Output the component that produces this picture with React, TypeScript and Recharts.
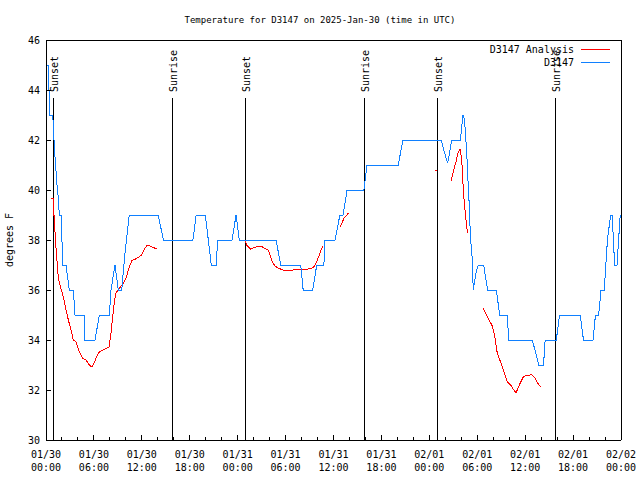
import { LineChart, Line, XAxis, YAxis, ReferenceLine } from 'recharts';

const FONT = '"DejaVu Sans Mono", monospace';
const RED = '#ff0000';
const BLUE = '#1080ff';

// hours since 2025-01-30 00:00 UTC, temperature in F
const obsHours = [
  0, 0.3, 0.45, 0.85, 1.05, 1.2, 1.35, 1.5, 1.67, 1.88, 2.0, 2.09, 2.5, 2.92, 3.42, 3.63, 4.76, 4.88, 6.14, 6.68,
  7.93, 8.14, 8.64, 9.05, 9.48, 9.9, 10.43, 14.05, 14.7, 18.4, 18.8, 19.95, 20.7, 21.3, 21.5, 23.3, 23.8, 24.2,
  28.8, 29.4, 31.9, 32.2, 33.4, 33.9, 34.8, 34.9, 36.2, 36.8, 37.2, 37.7, 39.8, 40.2, 44.1, 44.7, 49.5, 49.8,
  50.3, 50.8, 51.9, 52.2, 52.3, 52.47, 52.6, 52.76, 52.88, 53.0, 53.09, 53.2, 53.34, 53.5, 53.7, 53.9, 54.17,
  54.8, 55.3, 56.4, 56.8, 57.8, 57.9, 60.9, 61.7, 62.3, 62.5, 63.9, 64.3, 66.9, 67.3, 68.5, 68.8, 69.2, 69.5,
  69.9, 70.1, 70.3, 70.7, 70.9, 71.2, 71.5, 71.9, 72,
];
const obsTemps = [
  45, 45, 43, 43, 41.7, 41, 40.3, 39.8, 39, 39, 38, 37, 37, 36, 36, 35, 35, 34, 34, 35,
  35, 36, 37, 36, 36, 37.5, 39, 39, 38, 38, 39, 39, 37, 37, 38, 38, 39, 38,
  38, 37, 37, 36, 36, 37, 37, 38, 38, 39, 39, 40, 40, 41, 41, 42, 42, 41.6,
  41.07, 42, 42, 43, 43, 42.5, 41.9, 41, 40.1, 39.4, 38.6, 37.9, 37.4, 36, 36.4, 36.8, 37,
  37, 36, 36, 35, 35, 34, 34, 33, 33, 34, 34, 35, 35, 34, 34, 35, 35, 36,
  36, 37, 38, 39, 39, 37, 37, 39, 39,
];

// analysis, null = gap
const anaHours = [
  0.63, 0.9, 0.92, 1.04, 1.25, 1.54, 1.75, 2.17, 2.5, 2.8, 3.13, 3.42, 3.76, 4.17, 4.59, 5.0, 5.42, 5.72, 5.92,
  6.26, 6.68, 7.18, 7.6, 7.93, 8.01, 8.14, 8.35, 8.51, 8.72, 9.06, 9.27, 9.68, 10.02, 10.31, 10.73, 11.14, 11.56,
  11.98, 12.27, 12.6, 12.94, 13.44, 13.94,
  19,
  24.92, 25.13, 25.63, 26.1, 26.59, 27.0, 27.42, 27.84, 28.14, 28.38, 28.67, 29.09, 29.72, 30.97, 31.5, 32.85,
  33.48, 33.68, 33.98, 34.3, 34.65,
  35.5,
  36.81, 37.32, 37.86,
  43,
  48.7, 48.95,
  49.8,
  50.71, 51.0, 51.34, 51.63, 51.84, 52.05, 52.17, 52.26, 52.38, 52.55, 52.68, 52.8,
  53.8,
  54.76, 55.18, 55.6, 55.93, 56.22, 56.51, 57.06, 57.48, 57.77, 58.19, 58.5, 58.86, 59.27, 59.77, 60.27, 60.6,
  60.81, 61.23, 61.52, 61.94,
];
const anaTemps = [
  39.67, 39.67, 39.4, 38.8, 37.7, 36.5, 36.2, 35.73, 35.2, 34.8, 34.4, 34.0, 33.93, 33.53, 33.27, 33.2, 33.0, 32.93, 33.0,
  33.27, 33.53, 33.6, 33.67, 33.73, 34.0, 34.27, 34.93, 35.4, 35.87, 36.0, 36.1, 36.27, 36.47, 36.8, 37.17, 37.23, 37.3,
  37.4, 37.6, 37.77, 37.77, 37.7, 37.63,
  null,
  38.0, 37.8, 37.63, 37.7, 37.76, 37.74, 37.65, 37.6, 37.33, 37.09, 36.96, 36.87, 36.8, 36.8, 36.84, 36.84,
  36.89, 37.0, 37.2, 37.47, 37.76,
  null,
  38.51, 38.87, 39.07,
  null,
  40.8, 40.8,
  null,
  40.36, 40.73, 41.13, 41.53, 41.63, 41.27, 40.53, 40.0, 39.47, 38.93, 38.53, 38.29,
  null,
  35.27, 35.0, 34.73, 34.53, 34.07, 33.47, 33.0, 32.6, 32.33, 32.2, 32.03, 31.89, 32.2, 32.53, 32.59, 32.6,
  32.63, 32.47, 32.29, 32.13,
];

const sunHours = [1.0, 15.78, 25.04, 39.82, 48.96, 63.74];
const sunNames = ['Sunset', 'Sunrise', 'Sunset', 'Sunrise', 'Sunset', 'Sunrise'];

const xTicks = Array.from({ length: 37 }, (_, i) => i * 2);
const xDates = ['01/30', '01/30', '01/30', '01/30', '01/31', '01/31', '01/31', '01/31', '02/01', '02/01', '02/01', '02/01', '02/02'];
const xTimes = ['00:00', '06:00', '12:00', '18:00', '00:00', '06:00', '12:00', '18:00', '00:00', '06:00', '12:00', '18:00', '00:00'];
const yTicks = [30, 32, 34, 36, 38, 40, 42, 44, 46];

const obsData = obsHours.map((h, i) => ({ h, t: obsTemps[i] }));
const anaData = anaHours.map((h, i) => ({ h, t: anaTemps[i] }));

const txt = { fontFamily: FONT, fontSize: 10, fill: '#000' };

function BottomTick({ x, y, payload }: any) {
  const h = payload.value;
  const major = h % 6 === 0;
  const i = h / 6;
  return (
    <g>
      <line x1={x} x2={x} y1={y} y2={y - (major ? 5 : 3)} stroke="#000" />
      {major && (
        <text x={x} y={y + 18} textAnchor="middle" {...txt}>
          <tspan x={x}>{xDates[i]}</tspan>
          <tspan x={x} dy={13}>{xTimes[i]}</tspan>
        </text>
      )}
    </g>
  );
}

function TopTick({ x, y, payload }: any) {
  const major = payload.value % 6 === 0;
  return <line x1={x} x2={x} y1={y} y2={y + (major ? 5 : 3)} stroke="#000" />;
}

function LeftTick({ x, y, payload }: any) {
  return (
    <g>
      <line x1={x} x2={x + 5} y1={y} y2={y} stroke="#000" />
      <text x={x - 6} y={y + 3.5} textAnchor="end" {...txt}>{payload.value}</text>
    </g>
  );
}

function RightTick({ x, y }: any) {
  return <line x1={x} x2={x - 5} y1={y} y2={y} stroke="#000" />;
}

function SunLabel(props: any) {
  const x = props.viewBox.x + 4.5;
  return (
    <text x={x} y={92} transform={`rotate(-90 ${x} 92)`} {...txt}>{props.value}</text>
  );
}

export default function App() {
  return (
    <div style={{ position: 'absolute', left: 0, top: 0, width: 640, height: 480, background: '#fff', shapeRendering: 'crispEdges' }}>
      <LineChart width={640} height={480} margin={{ top: 0, right: 0, bottom: 0, left: 0 }}>
        <XAxis xAxisId="b" dataKey="h" type="number" domain={[0, 72]} ticks={xTicks} interval={0} height={40}
          tickSize={0} tickMargin={0} tick={<BottomTick />} tickLine={false} axisLine={{ stroke: '#000' }} allowDataOverflow />
        <XAxis xAxisId="t" orientation="top" type="number" domain={[0, 72]} ticks={xTicks} interval={0} height={40}
          tickSize={0} tickMargin={0} tick={<TopTick />} tickLine={false} axisLine={{ stroke: '#000' }} />
        <YAxis yAxisId="l" type="number" domain={[30, 46]} ticks={yTicks} interval={0} width={46}
          tickSize={0} tickMargin={0} tick={<LeftTick />} tickLine={false} axisLine={{ stroke: '#000' }} allowDataOverflow />
        <YAxis yAxisId="r" orientation="right" type="number" domain={[30, 46]} ticks={yTicks} interval={0} width={19}
          tickSize={0} tickMargin={0} tick={<RightTick />} tickLine={false} axisLine={{ stroke: '#000' }} />
        {sunHours.map((h, i) => (
          <ReferenceLine key={i} xAxisId="b" yAxisId="l" segment={[{ x: h, y: 43.67 }, { x: h, y: 30 }]}
            stroke="#000" strokeWidth={1} label={<SunLabel value={sunNames[i]} />} />
        ))}
        <Line xAxisId="b" yAxisId="l" data={anaData} dataKey="t" type="linear" stroke={RED} strokeWidth={1}
          dot={false} connectNulls={false} isAnimationActive={false} />
        <Line xAxisId="b" yAxisId="l" data={obsData} dataKey="t" type="linear" stroke={BLUE} strokeWidth={1}
          dot={false} isAnimationActive={false} />
        <text x={320} y={23} textAnchor="middle" {...txt} fontSize={9}>Temperature for D3147 on 2025-Jan-30 (time in UTC)</text>
        <text x={13} y={240} textAnchor="middle" transform="rotate(-90 13 240)" {...txt}>degrees F</text>
        <text x={574} y={53} textAnchor="end" {...txt}>D3147 Analysis</text>
        <line x1={581} x2={610} y1={49} y2={49} stroke={RED} />
        <text x={574} y={66} textAnchor="end" {...txt}>D3147</text>
        <line x1={581} x2={610} y1={62} y2={62} stroke={BLUE} />
      </LineChart>
    </div>
  );
}
